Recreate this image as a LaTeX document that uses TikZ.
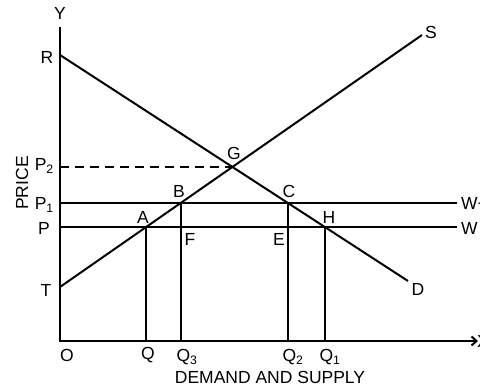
\documentclass[tikz,border=0pt]{standalone}
\usepackage{fontspec}
\setmainfont{Liberation Sans}
\usetikzlibrary{arrows.meta,calc}
\begin{document}
\begin{tikzpicture}[x=1pt,y=-1pt,
  lbl/.style={font=\fontsize{17.5}{19}\selectfont, inner sep=0pt},
  curve/.style={line width=2pt},
  axisline/.style={line width=2pt},
  guide/.style={line width=1.9pt}]
\useasboundingbox (0,0) rectangle (480,387);
\coordinate (O) at (60,341);
\coordinate (Ytop) at (60,27);
\coordinate (Xend) at (478,341);
\coordinate (R) at (60,55);
\coordinate (Dend) at (408,281);
\coordinate (T) at (60,287);
\coordinate (Send) at (422,35);
\coordinate (P1) at (60,203);
\coordinate (P1e) at (457,203);
\coordinate (P) at (60,227);
\coordinate (Pe) at (457,227);
\coordinate (G) at (intersection of R--Dend and T--Send);
\coordinate (B) at (intersection of T--Send and P1--P1e);
\coordinate (C) at (intersection of R--Dend and P1--P1e);
\coordinate (A) at (intersection of T--Send and P--Pe);
\coordinate (H) at (intersection of R--Dend and P--Pe);
% axes
\draw[axisline, -{Straight Barb[length=5pt,width=9pt]}] (Ytop) -- (O) -- (Xend);
% curves
\draw[curve] (R) -- (Dend);
\draw[curve] (T) -- (Send);
\draw[guide] (P1) -- (P1e);
\draw[guide] (P) -- (Pe);
\draw[guide, dash pattern=on 9pt off 6pt] (O |- G) -- (G);
\draw[guide] (A) -- (A |- O);
\draw[guide] (B) -- (B |- O);
\draw[guide] (C) -- (C |- O);
\draw[guide] (H) -- (H |- O);
% labels
\node[lbl] (ly) at (60,13) {Y};
\node[lbl] (lx) at (483,341) {X};
\node[lbl] (lr) at (47,57) {R};
\node[lbl] (lt) at (46,290) {T};
\node[lbl, anchor=east] (lp2) at (54,166) {P\textsubscript{2}};
\node[lbl, anchor=east] (lp1) at (54,205) {P\textsubscript{1}};
\node[lbl, anchor=east] (lp) at (50,228) {P};
\node[lbl] (ls) at (431,32) {S};
\node[lbl] (ld) at (418,289) {D};
\node[lbl] (lg) at (234,153) {G};
\node[lbl] (lb) at (179,191) {B};
\node[lbl] (lc) at (289,191) {C};
\node[lbl] (la) at (143,217) {A};
\node[lbl] (lh) at (329,217) {H};
\node[lbl] (lf) at (190,239) {F};
\node[lbl] (le) at (279,239) {E};
\node[lbl, anchor=west] (lwt) at (461,203) {W+T};
\node[lbl, anchor=west] (lw) at (461,228) {W};
\node[lbl] (lo) at (67,355) {O};
\node[lbl] (lq) at (148,355) {Q};
\node[lbl] (lq3) at (187,357) {Q\textsubscript{3}};
\node[lbl] (lq2) at (293,357) {Q\textsubscript{2}};
\node[lbl] (lq1) at (330,357) {Q\textsubscript{1}};
\node[lbl, rotate=90] (lprice) at (22,183) {PRICE};
\node[lbl] (ldemand) at (270,377) {DEMAND AND SUPPLY};
\end{tikzpicture}
\end{document}
